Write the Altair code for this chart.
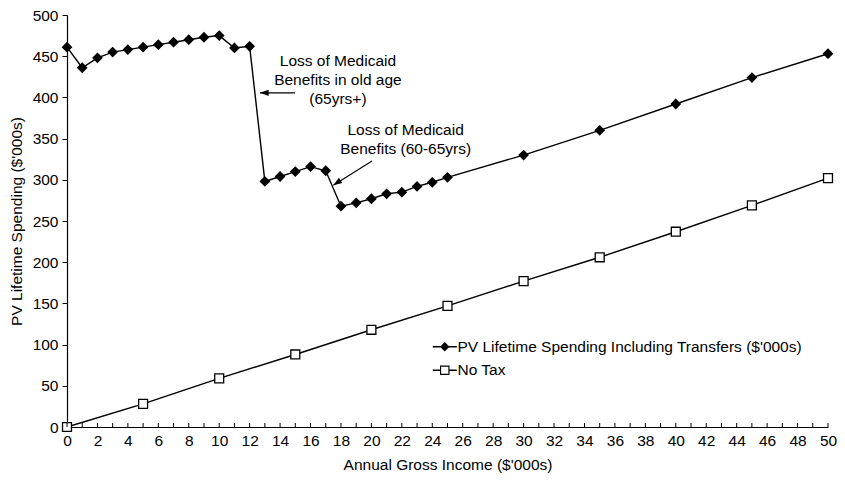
import altair as alt
import pandas as pd

FONT = "Liberation Sans"
FS = 15.5

# ---- data ----
income = list(range(0, 26)) + [30, 35, 40, 45, 50]
pv_spending = [461, 436, 448, 455, 458, 461, 464, 467, 470, 473, 475,
               460, 462,
               298, 304, 310, 316, 311,
               268, 272, 277, 283, 285, 292, 297, 303,
               330, 360, 392, 424, 453]
notax_income = [0, 5, 10, 15, 20, 25, 30, 35, 40, 45, 50]
notax_values = [0, 28, 59, 88, 118, 147, 177, 206, 237, 269, 302]

series_names = ["PV Lifetime Spending Including Transfers ($'000s)", "No Tax"]
x_minor_ticks = list(range(0, 51))
x_labels = list(range(0, 51, 2))
y_ticks = list(range(0, 501, 50))

annot_texts = ["Loss of Medicaid\nBenefits in old age\n(65yrs+)",
               "Loss of Medicaid\nBenefits (60-65yrs)"]
annot_text_x = [17.8, 22.25]
annot_text_y = [453, 369]
arrow_from_x = [14.98, 20.04]
arrow_from_y = [405.6, 322.9]
arrow_to_x = [12.68, 17.5]
arrow_to_y = [405.6, 293.5]
arrow_angle = [270, 237]

# ---- tables ----
df = pd.concat([
    pd.DataFrame({"income": income, "value": pv_spending, "series": series_names[0]}),
    pd.DataFrame({"income": notax_income, "value": notax_values, "series": series_names[1]}),
], ignore_index=True)
df["legend_series"] = df["series"]
ticks_df = pd.DataFrame({"t": x_minor_ticks})
text_df = pd.DataFrame({"x": annot_text_x, "y": annot_text_y, "label": annot_texts})
arrow_df = pd.DataFrame({"x": arrow_from_x, "y": arrow_from_y,
                         "x2": arrow_to_x, "y2": arrow_to_y, "angle": arrow_angle})

xscale = alt.Scale(domain=[0, 50], nice=False, zero=False)
yscale = alt.Scale(domain=[0, 500], nice=False)

X_TITLE = "Annual Gross Income ($'000s)"
Y_TITLE = "PV Lifetime Spending ($'000s)"

x_axis = alt.Axis(values=x_labels, ticks=False, tickSize=0, grid=False,
                  title=X_TITLE,
                  domainColor="black", domainWidth=1.2,
                  labelFont=FONT, labelFontSize=FS, labelColor="black",
                  labelPadding=6, labelFlush=False,
                  titleFont=FONT, titleFontSize=FS, titleFontWeight="normal",
                  titleColor="black", titlePadding=9)
y_axis = alt.Axis(values=y_ticks, grid=False, tickSize=5, tickColor="black",
                  title=Y_TITLE,
                  domainColor="black", domainWidth=1.2,
                  labelFont=FONT, labelFontSize=FS, labelColor="black",
                  labelPadding=4,
                  titleFont=FONT, titleFontSize=FS, titleFontWeight="normal",
                  titleColor="black", titlePadding=8)


def X(field):
    return alt.X(field, scale=xscale, axis=x_axis, title=X_TITLE)


def Y(field):
    return alt.Y(field, scale=yscale, axis=y_axis, title=Y_TITLE)


# legend symbols: line segment + marker, drawn as filled shapes (no stroke needed)
DIAMOND_LEG = ("M-2.4,-0.13H-0.8V0.13H-2.4Z"
               "M0.8,-0.13H2.4V0.13H0.8Z"
               "M0,-0.95L0.95,0L0,0.95L-0.95,0Z")
SQUARE_LEG = ("M-2.4,-0.13H-0.95V0.13H-2.4Z"
              "M0.95,-0.13H2.4V0.13H0.95Z"
              "M-0.95,-0.95H0.95V0.95H-0.95Z"
              "M-0.72,-0.72V0.72H0.72V-0.72Z")

legend = alt.Legend(
    title=None, orient="none", legendX=370, legendY=324,
    labelFont=FONT, labelFontSize=FS, labelColor="black", labelLimit=0,
    symbolSize=100, symbolStrokeWidth=0, symbolFillColor="black",
    symbolOpacity=1, labelOffset=5, rowPadding=6.5,
)

base = alt.Chart(df)
lines = base.mark_line(color="black", strokeWidth=1.4).encode(
    x=X("income:Q"), y=Y("value:Q"), detail="series:N")
points = base.mark_point(filled=True, stroke="black", strokeWidth=1.3, opacity=1, size=80).encode(
    x=X("income:Q"), y=Y("value:Q"),
    shape=alt.Shape("series:N", scale=alt.Scale(domain=series_names, range=["diamond", "square"]),
                    legend=None),
    fill=alt.Fill("series:N", scale=alt.Scale(domain=series_names, range=["black", "white"]),
                  legend=None),
)
# legend-only layer: its marks sit off the canvas; it only feeds the legend
legend_layer = base.mark_point(filled=True, color="black", opacity=1, size=100).encode(
    x=alt.value(-500), y=alt.value(-500),
    shape=alt.Shape("legend_series:N",
                    scale=alt.Scale(domain=series_names, range=[DIAMOND_LEG, SQUARE_LEG]),
                    legend=legend),
)

minor = alt.Chart(ticks_df).mark_rule(color="black", strokeWidth=1).encode(
    x=X("t:Q"), y=alt.value(408), y2=alt.value(412))

texts = alt.Chart(text_df).mark_text(font=FONT, fontSize=FS, color="black", align="center",
                                     baseline="top", lineBreak="\n", lineHeight=19).encode(
    x=X("x:Q"), y=Y("y:Q"), text="label:N")

arrow_lines = alt.Chart(arrow_df).mark_rule(color="black", strokeWidth=1.2).encode(
    x=X("x:Q"), x2="x2:Q", y=Y("y:Q"), y2="y2:Q")

ARROW_HEAD = "M0,0L-0.36,1L0.36,1Z"
arrow_heads = alt.Chart(arrow_df).mark_point(shape=ARROW_HEAD, filled=True, color="black",
                                             size=300, opacity=1).encode(
    x=X("x2:Q"), y=Y("y2:Q"),
    angle=alt.Angle("angle:Q", scale=None))

chart = alt.layer(lines, points, legend_layer, minor, arrow_lines, arrow_heads, texts).resolve_scale(
    shape="independent", fill="independent").properties(
    width=761, height=412,
    autosize=alt.AutoSizeParams(type="none"),
    padding={"left": 59, "top": 7, "right": 9, "bottom": 48},
    background="white",
).configure_view(stroke=None)

chart.save("out.html", embed_options={"renderer": "svg", "actions": False})
